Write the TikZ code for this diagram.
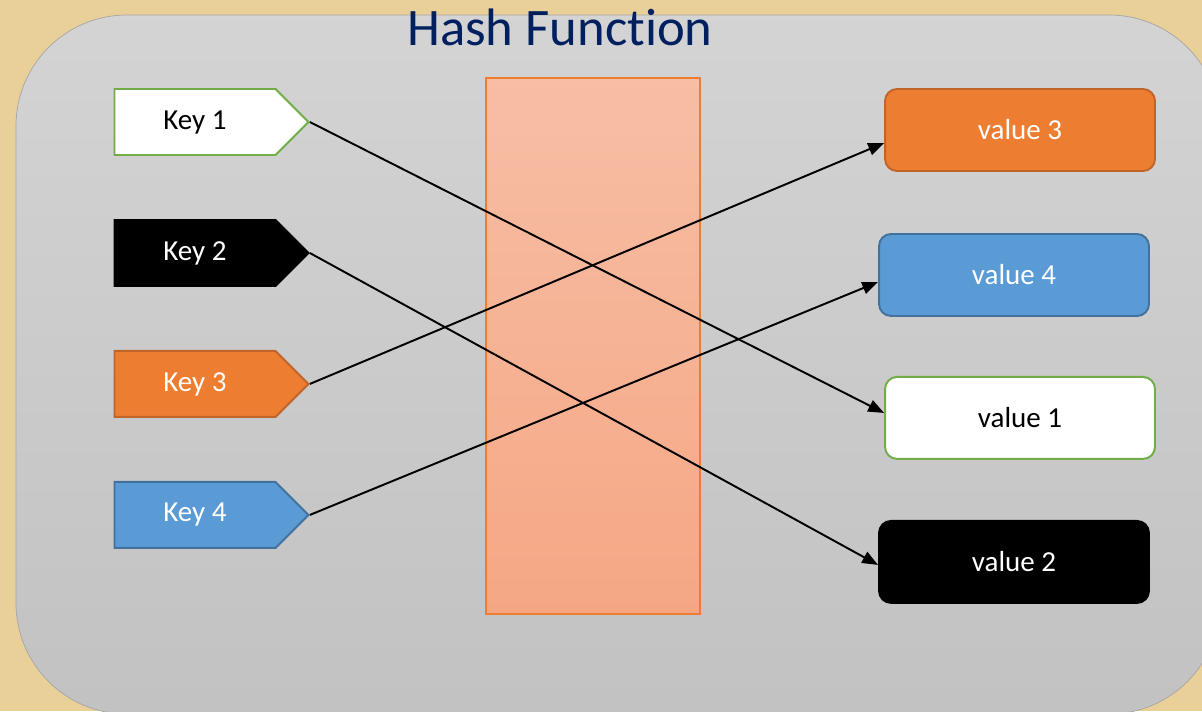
\documentclass[tikz,border=0pt]{standalone}
\usepackage{fontspec}
\setmainfont{Carlito}[RawFeature=-liga]
\usetikzlibrary{shapes.symbols,arrows.meta}

\definecolor{papyrus}{HTML}{E9CF98}
\definecolor{panelgray}{HTML}{A6A6A6}
\definecolor{navy}{HTML}{002060}
\definecolor{keygreen}{HTML}{70AD47}
\definecolor{keyorange}{HTML}{ED7D31}
\definecolor{keyorangedark}{HTML}{C0652A}
\definecolor{keyblue}{HTML}{5B9BD5}
\definecolor{keybluedark}{HTML}{41719C}
\definecolor{hashtop}{HTML}{F7BEA5}
\definecolor{hashbottom}{HTML}{F5A784}

\begin{document}
\begin{tikzpicture}[x=0.02cm,y=-0.02cm,node distance=2.62cm,
            key node/.style={signal,signal to=east,signal pointer angle=90,
              minimum width=3.88cm,minimum height=1.32cm,inner sep=0pt,
              line width=1.1pt,font=\fontsize{16.5}{20}\selectfont},
            value node/.style={rectangle,rounded corners=0.24cm,minimum width=5.4cm,
              minimum height=1.64cm,line width=1.1pt,font=\fontsize{16.5}{20}\selectfont}]

        % Background
        \useasboundingbox (0,0) rectangle (1202,711);
        \fill[papyrus] (0,0) rectangle (1202,711);
        \begin{scope}
          \clip (0,0) rectangle (1202,711);
          \draw[panelgray,top color=black!17,bottom color=black!24,rounded corners=2.22cm]
            (16,15) rectangle (1220,714);
        \end{scope}

        % Hash function box
        \node[draw=keyorange,line width=0.8pt,top color=hashtop,bottom color=hashbottom,
              minimum width=4.28cm,minimum height=10.72cm] (hash) at (593,346) {};
        \node[anchor=base,text=navy,font=\fontsize{30}{36}\selectfont] (title) at (560,45) {Hash Function};

        % Define keys
        \node[key node,draw=keygreen,fill=white] (k1) at (195,122) {Key 1};
        \node[key node,draw=black,fill=black,text=white] (k2) [below of=k1] {Key 2};
        \node[key node,draw=keyorangedark,fill=keyorange,text=white] (k3) [below of=k2] {Key 3};
        \node[key node,draw=keybluedark,fill=keyblue,text=white] (k4) [below of=k3] {Key 4};

        % Define values
        \node[value node,draw=keyorangedark,fill=keyorange,text=white] (v3) at (1020,130) {value 3};
        \node[value node,draw=keybluedark,fill=keyblue,text=white] (v4) [below of=v3,node distance=2.9cm,xshift=-0.12cm] {value 4};
        \node[value node,draw=keygreen,fill=white] (v1) [below of=v4,node distance=2.86cm,xshift=0.12cm] {value 1};
        \node[value node,draw=black,fill=black,text=white] (v2) [below of=v1,node distance=2.88cm,xshift=-0.12cm] {value 2};

        % Draw edges
        \path[-{Triangle[length=9pt,width=7pt]},line width=1.1pt]
            (k1.east) edge ([yshift=0.1cm]v1.west)
            (k2.east) edge ([yshift=-0.06cm]v2.west)
            (k3.east) edge ([yshift=-0.26cm]v3.west)
            (k4.east) edge ([yshift=-0.14cm]v4.west);

        \end{tikzpicture}
\end{document}
